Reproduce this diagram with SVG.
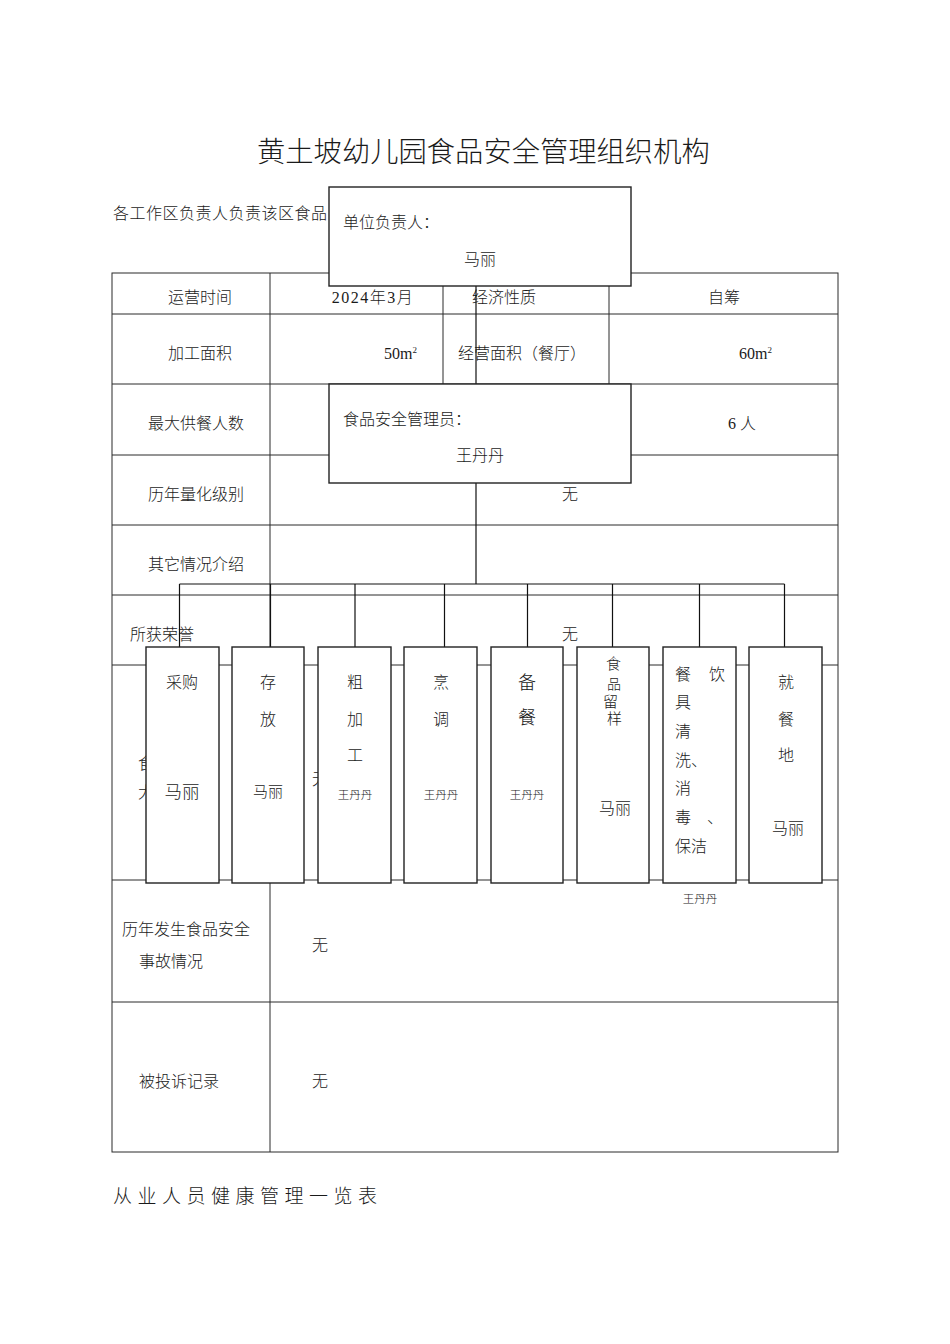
<svg xmlns="http://www.w3.org/2000/svg" width="950" height="1344" viewBox="0 0 950 1344">
<style>
.t{font-family:"Liberation Serif","Noto Sans CJK SC",serif;font-size:16px;font-weight:300;fill:#1a1a1a}
.m{text-anchor:middle}
.s{font-size:11.5px}
.b{font-size:17.5px}
.grid{stroke:#2a2a2a;stroke-width:1;fill:none}
.conn{stroke:#111;stroke-width:1.2;fill:none}
.box{fill:#fff;stroke:#222;stroke-width:1.4}
</style>
<rect x="0" y="0" width="950" height="1344" fill="#fff"/>

<text class="t" x="257" y="162" style="font-size:28.3px">黄土坡幼儿园食品安全管理组织机构</text>

<g id="table">
  <rect class="grid" x="112" y="273" width="726" height="879"/>
  <path class="grid" d="M112 314H838M112 384H838M112 455H838M112 525H838M112 595H838M112 665H838M112 880H838M112 1002H838"/>
  <path class="grid" d="M270 273V1152M443 273V455M609 273V455"/>
  <text class="t m" x="200" y="303">运营时间</text>
  <text class="t m" x="373" y="303" style="letter-spacing:1.5px">2024年3月</text>
  <text class="t m" x="504" y="303">经济性质</text>
  <text class="t m" x="724" y="303">自筹</text>
  <text class="t m" x="200" y="359">加工面积</text>
  <text class="t" x="384" y="359">50m<tspan style="font-size:9px" dy="-6">2</tspan></text>
  <text class="t" x="458" y="359">经营面积（餐厅）</text>
  <text class="t" x="739" y="359">60m<tspan style="font-size:9px" dy="-6">2</tspan></text>
  <text class="t m" x="196" y="429">最大供餐人数</text>
  <text class="t" x="728" y="429" style="letter-spacing:4px">6人</text>
  <text class="t m" x="196" y="500">历年量化级别</text>
  <text class="t m" x="570" y="500">无</text>
  <text class="t m" x="196" y="570">其它情况介绍</text>
  <text class="t" x="130" y="640">所获荣誉</text>
  <text class="t m" x="570" y="640">无</text>
  <text class="t" x="138" y="769">食</text>
  <text class="t" x="138" y="798">大</text>
  <text class="t" x="312" y="785">无</text>
  <text class="t" x="122" y="935">历年发生食品安全</text>
  <text class="t" x="139" y="967">事故情况</text>
  <text class="t" x="312" y="951">无</text>
  <text class="t" x="139" y="1087">被投诉记录</text>
  <text class="t" x="312" y="1087">无</text>
</g>

<text class="t" x="113" y="219" style="letter-spacing:0.5px">各工作区负责人负责该区食品</text>

<g id="connectors">
  <path class="conn" d="M476 286V384M476 483V584M179.5 584H784.5"/>
  <path class="conn" d="M179.5 584V647M270.5 584V647M355 584V647M444.5 584V647M527.5 584V647M612.5 584V647M699.5 584V647M784.5 584V647"/>
</g>

<g id="node-unit-head">
  <rect class="box" x="329" y="187" width="302" height="99"/>
  <text class="t" x="343" y="228">单位负责人：</text>
  <text class="t m" x="480" y="265">马丽</text>
</g>

<g id="node-safety-admin">
  <rect class="box" x="329" y="384" width="302" height="99"/>
  <text class="t" x="343" y="425">食品安全管理员：</text>
  <text class="t m" x="480" y="461">王丹丹</text>
</g>

<g id="node-purchase">
  <rect class="box" x="146" y="647" width="73" height="236"/>
  <text class="t m" x="182" y="688">采购</text>
  <text class="t m b" x="182" y="798">马丽</text>
</g>

<g id="node-storage">
  <rect class="box" x="232" y="647" width="72" height="236"/>
  <text class="t m" x="268" y="688">存</text>
  <text class="t m" x="268" y="725">放</text>
  <text class="t m" x="268" y="797" style="font-size:15px">马丽</text>
</g>

<g id="node-rough">
  <rect class="box" x="318" y="647" width="73" height="236"/>
  <text class="t m" x="355" y="688">粗</text>
  <text class="t m" x="355" y="725">加</text>
  <text class="t m" x="355" y="761">工</text>
  <text class="t m s" x="355" y="799">王丹丹</text>
</g>

<g id="node-cook">
  <rect class="box" x="404" y="647" width="73" height="236"/>
  <text class="t m" x="441" y="688">烹</text>
  <text class="t m" x="441" y="725">调</text>
  <text class="t m s" x="441" y="799">王丹丹</text>
</g>

<g id="node-prepare">
  <rect class="box" x="491" y="647" width="72" height="236"/>
  <text class="t m" x="527" y="689" style="font-size:18px">备</text>
  <text class="t m" x="527" y="724" style="font-size:18px">餐</text>
  <text class="t m s" x="527" y="799">王丹丹</text>
</g>

<g id="node-sample">
  <rect class="box" x="577" y="647" width="72" height="236"/>
  <text class="t" x="606" y="669" style="font-size:15px">食</text>
  <text class="t" x="607" y="689" style="font-size:14px">品</text>
  <text class="t" x="603" y="707" style="font-size:15px">留</text>
  <text class="t" x="607" y="724" style="font-size:15px">样</text>
  <text class="t m" x="615" y="814">马丽</text>
</g>

<g id="node-cleaning">
  <rect class="box" x="663" y="647" width="73" height="236"/>
  <text class="t" x="675" y="680">餐</text>
  <text class="t" x="709" y="680">饮</text>
  <text class="t" x="675" y="708">具</text>
  <text class="t" x="675" y="737">清</text>
  <text class="t" x="675" y="766">洗、</text>
  <text class="t" x="675" y="794">消</text>
  <text class="t" x="675" y="823">毒</text>
  <text class="t" x="707" y="823">、</text>
  <text class="t" x="675" y="852">保洁</text>
</g>
<text class="t m s" x="700" y="903">王丹丹</text>

<g id="node-dining">
  <rect class="box" x="749" y="647" width="73" height="236"/>
  <text class="t m" x="786" y="688">就</text>
  <text class="t m" x="786" y="725">餐</text>
  <text class="t m" x="786" y="761">地</text>
  <text class="t m" x="788" y="834">马丽</text>
</g>

<text class="t" x="113" y="1203" style="font-size:19px;letter-spacing:5.5px">从业人员健康管理一览表</text>
</svg>
